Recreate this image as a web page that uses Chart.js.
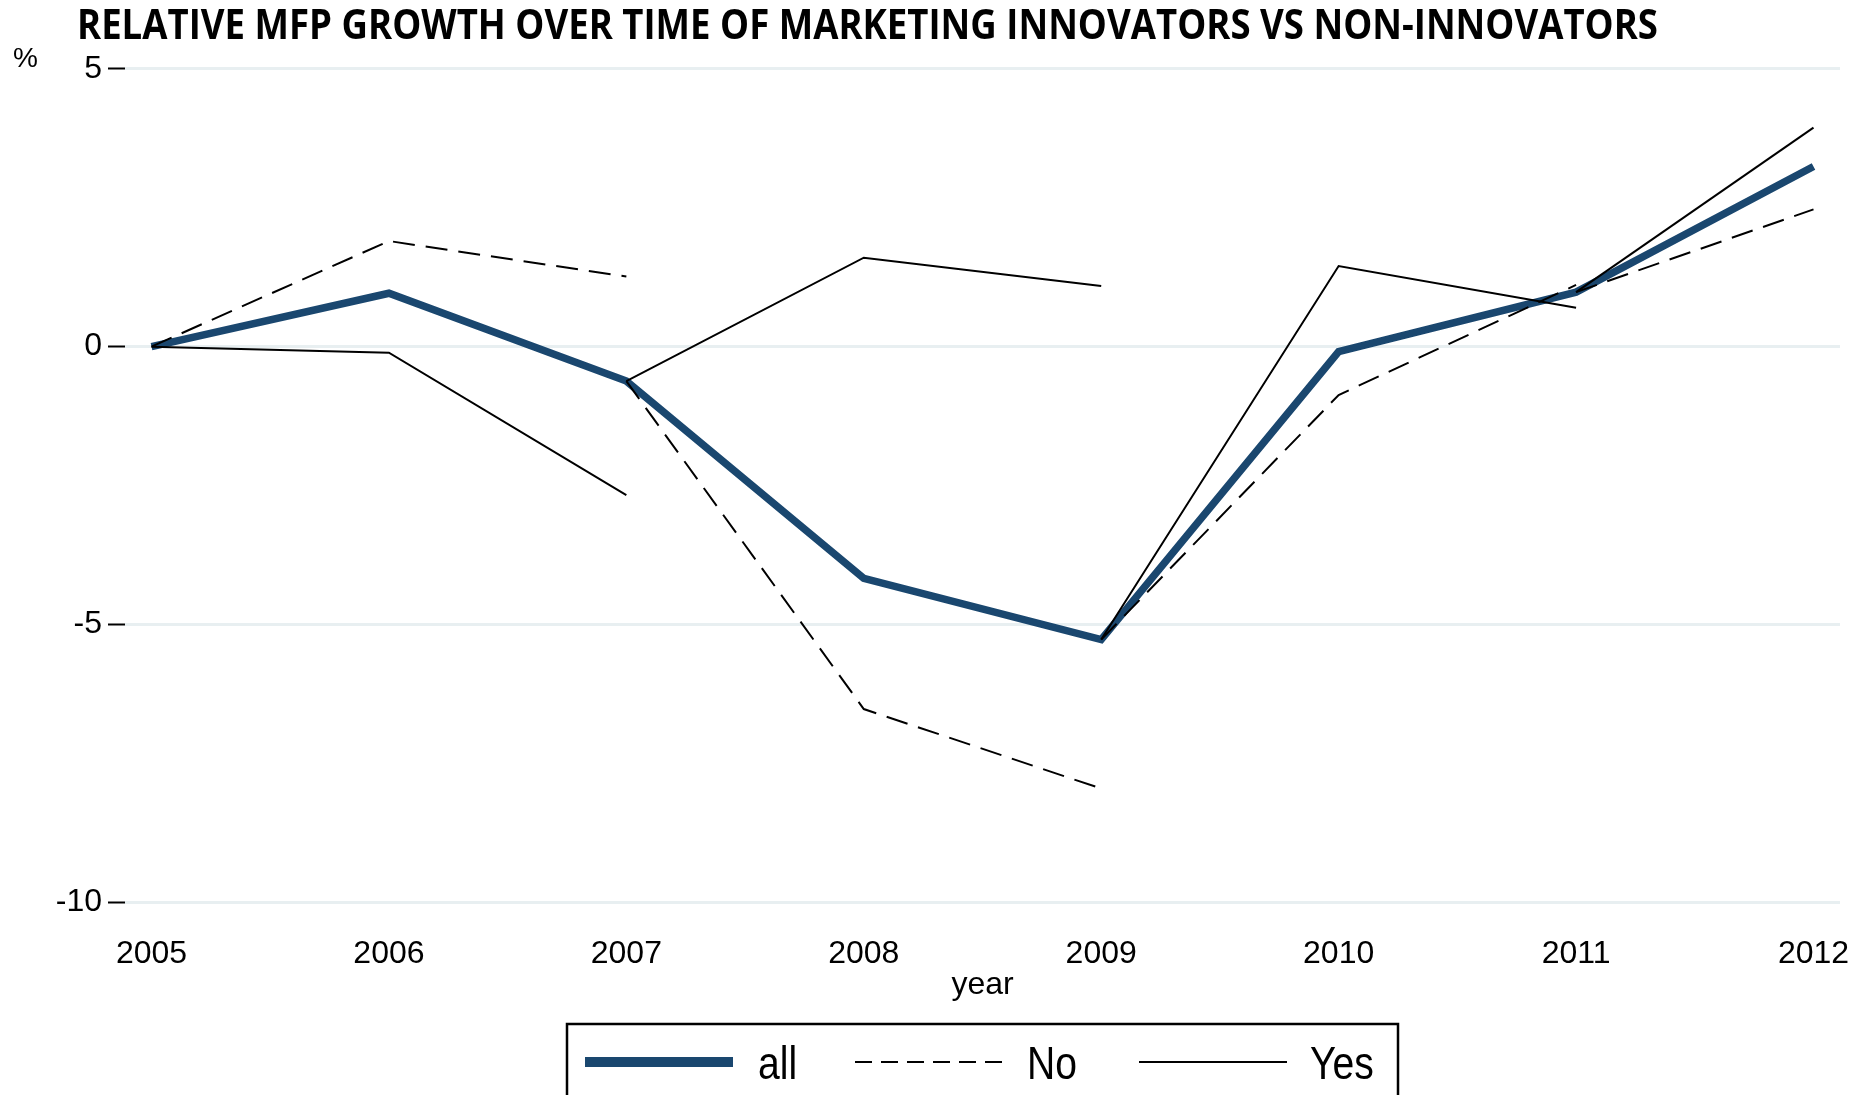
<!DOCTYPE html>
<html>
<head>
<meta charset="utf-8">
<script src="https://cdn.jsdelivr.net/npm/chart.js@4/dist/chart.umd.min.js"></script>
<style>
	html, body { margin: 0; padding: 0; background: #fff; }
	#wrap { width: 1856px; height: 1095px; position: relative; }
</style>
</head>
<body>
<div id="wrap"><canvas id="mfpChart"></canvas></div>
<script>
const years = [2005, 2006, 2007, 2008, 2009, 2010, 2011, 2012];
const yTicks = [-10, -5, 0, 5];

// all firms, relative MFP growth (%)
const allGrowth = [0, 0.96, -0.62, -4.17, -5.27, -0.09, 0.98, 3.24];

// each No / Yes path restarts from the "all" value at its base year
const segmentStartYears = [2005, 2007, 2009, 2011];
const noSeg1 = [0, 1.90, 1.26];
const noSeg2 = [-0.62, -6.52, -7.95];
const noSeg3 = [-5.27, -0.87, 1.11];
const noSeg4 = [0.98, 2.47];
const yesSeg1 = [0, -0.11, -2.67];
const yesSeg2 = [-0.62, 1.60, 1.09];
const yesSeg3 = [-5.27, 1.45, 0.70];
const yesSeg4 = [0.98, 3.94];

const noSegments = [noSeg1, noSeg2, noSeg3, noSeg4];
const yesSegments = [yesSeg1, yesSeg2, yesSeg3, yesSeg4];

const NAVY = '#1a476f';
const AXIS_FONT = 'Liberation Sans, Arial, Helvetica, sans-serif';

function toPoints(startYear, values) {
	return values.map((v, i) => ({ x: startYear + i, y: v }));
}

function segmentDatasets(label, segments, dash) {
	return segments.map((vals, i) => ({
		label,
		data: toPoints(segmentStartYears[i], vals),
		borderColor: '#000',
		borderWidth: 2,
		borderDash: dash,
		borderCapStyle: 'butt',
		pointRadius: 0,
		fill: false,
		order: 1,
	}));
}

// title, "%" unit and the boxed legend
const decorations = {
	id: 'decorations',
	afterDraw(chart) {
		const ctx = chart.ctx;
		ctx.save();

		// title squeezed to the printed width
		ctx.font = 'bold 41px "Open Sans", sans-serif';
		ctx.fillStyle = '#000';
		ctx.textBaseline = 'alphabetic';
		const title = 'RELATIVE MFP GROWTH OVER TIME OF MARKETING INNOVATORS VS NON-INNOVATORS';
		const tw = ctx.measureText(title).width;
		ctx.save();
		ctx.translate(77, 39);
		ctx.scale(1581 / tw, 1);
		ctx.fillText(title, 0, 0);
		ctx.restore();

		ctx.font = '28px ' + AXIS_FONT;
		ctx.fillText('%', 13, 67);

		// legend box (runs off the bottom edge)
		ctx.strokeStyle = '#000';
		ctx.lineWidth = 2.5;
		ctx.strokeRect(567, 1024, 831, 200);

		const ly = 1062;
		const items = [
			{ x0: 585, x1: 733, color: NAVY, width: 10, dash: [], text: 'all', tx: 758 },
			{ x0: 855, x1: 1004, color: '#000', width: 2, dash: [17, 9], text: 'No', tx: 1027 },
			{ x0: 1139, x1: 1287, color: '#000', width: 2, dash: [], text: 'Yes', tx: 1310 },
		];
		items.forEach((it) => {
			ctx.beginPath();
			ctx.setLineDash(it.dash);
			ctx.lineCap = 'butt';
			ctx.strokeStyle = it.color;
			ctx.lineWidth = it.width;
			ctx.moveTo(it.x0, ly);
			ctx.lineTo(it.x1, ly);
			ctx.stroke();
			ctx.setLineDash([]);

			ctx.save();
			ctx.font = '46px ' + AXIS_FONT;
			ctx.fillStyle = '#000';
			ctx.translate(it.tx, 1079);
			ctx.scale(0.85, 1);
			ctx.fillText(it.text, 0, 0);
			ctx.restore();
		});

		ctx.restore();
	},
};

const ctx = document.getElementById('mfpChart').getContext('2d');
new Chart(ctx, {
	type: 'line',
	data: {
		datasets: [
			{
				label: 'all',
				data: toPoints(years[0], allGrowth),
				borderColor: NAVY,
				borderWidth: 7.5,
				borderCapStyle: 'butt',
				borderJoinStyle: 'miter',
				pointRadius: 0,
				fill: false,
				order: 2,
			},
			...segmentDatasets('No', noSegments, [22, 11]),
			...segmentDatasets('Yes', yesSegments, []),
		],
	},
	options: {
		responsive: true,
		maintainAspectRatio: false,
		animation: false,
		layout: {
			padding: { top: 68.7, right: 16, bottom: 0, left: 0 },
		},
		plugins: {
			legend: { display: false },
			tooltip: { enabled: false },
			title: { display: false },
		},
		scales: {
			x: {
				type: 'linear',
				min: 2004.8884,
				max: 2012.1116,
				afterBuildTicks: (axis) => {
					axis.ticks = years.map((v) => ({ value: v }));
				},
				afterFit: (scale) => {
					scale.height = 192.5;
					// end labels fit inside the canvas; don't let them shrink the plot
					scale.paddingLeft = 0;
					scale.paddingRight = 0;
				},
				grid: { display: false, drawTicks: false },
				border: { display: false },
				ticks: {
					color: '#000',
					font: { family: AXIS_FONT, size: 32 },
					padding: 32,
					maxRotation: 0,
					autoSkip: false,
					callback: (v) => String(v),
				},
				title: {
					display: true,
					text: 'year',
					color: '#000',
					font: { family: AXIS_FONT, size: 32 },
					padding: { top: 0, bottom: 91 },
				},
			},
			y: {
				min: -10,
				max: 5,
				afterBuildTicks: (axis) => {
					axis.ticks = yTicks.map((v) => ({ value: v }));
				},
				afterFit: (scale) => {
					scale.width = 125;
					scale.paddingTop = 0;
					scale.paddingBottom = 0;
				},
				grid: {
					color: '#e8eff1',
					lineWidth: 3,
					drawTicks: true,
					tickLength: 17,
					tickColor: '#000',
					tickWidth: 2,
				},
				border: { display: false },
				ticks: {
					color: '#000',
					font: { family: AXIS_FONT, size: 32 },
					padding: 6,
				},
			},
		},
	},
	plugins: [decorations],
});
</script>
</body>
</html>
